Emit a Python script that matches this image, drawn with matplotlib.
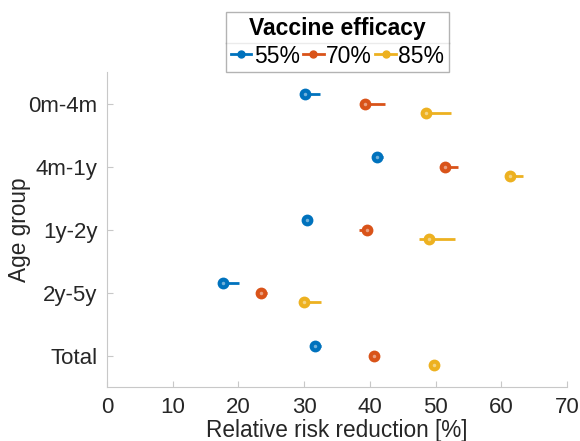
import numpy as np
import matplotlib.pyplot as plt
from matplotlib.lines import Line2D

plt.rcParams['font.family'] = ['Liberation Sans', 'DejaVu Sans']

groups = ["0m-4m", "4m-1y", "1y-2y", "2y-5y", "Total"]
efficacy = ["55%", "70%", "85%"]
colors = ["#0072BD", "#D95319", "#EDB120"]

# point estimate and range for each efficacy level
est_55 = [30.1, 41.1, 30.5, 17.6, 31.6]
lo_55 = [30.1, 41.1, 30.5, 17.6, 31.6]
hi_55 = [32.4, 42.0, 30.5, 20.1, 32.6]

est_70 = [39.2, 51.5, 39.6, 23.4, 40.7]
lo_70 = [38.5, 51.1, 38.4, 23.4, 40.7]
hi_70 = [42.3, 53.4, 39.6, 24.4, 40.7]

est_85 = [48.5, 61.4, 49.0, 30.0, 49.7]
lo_85 = [48.5, 61.4, 47.5, 30.0, 49.7]
hi_85 = [52.4, 63.3, 52.9, 32.5, 49.7]

ests = [est_55, est_70, est_85]
los = [lo_55, lo_70, lo_85]
his = [hi_55, hi_70, hi_85]
offsets = [-0.15, 0.0, 0.15]

fig = plt.figure(figsize=(5.8, 4.41), dpi=100)
ax = fig.add_axes([0.1845, 0.1224, 0.793, 0.714])

ypos = np.arange(1, len(groups) + 1)
handles = []
for k in range(3):
    y = ypos + offsets[k]
    e = np.array(ests[k])
    lo = np.array(los[k])
    hi = np.array(his[k])
    ax.hlines(y, lo, hi, color=colors[k], lw=2, zorder=2)
    ax.plot(e, y, 'o', ms=7, mec=colors[k], mfc=colors[k], mew=1.5, zorder=3)
    ax.plot(e, y, 'o', ms=2.5, mec='none', mfc='white', alpha=0.45, zorder=4)
    handles.append(Line2D([], [], color=colors[k], lw=2, marker='o', ms=5,
                          mfc=colors[k], mec=colors[k]))

ax.set_xlim(0, 70)
ax.set_ylim(5.5, 0.5)
ax.set_xticks(np.arange(0, 71, 10))
ax.set_yticks(ypos)
ax.set_yticklabels(groups)
ax.tick_params(direction='in', length=4, width=0.8, colors='#c8c8c8',
               labelcolor='#262626', labelsize=16, pad=7)
for s in ['top', 'right']:
    ax.spines[s].set_visible(False)
for s in ['left', 'bottom']:
    ax.spines[s].set_color('#c8c8c8')
    ax.spines[s].set_linewidth(0.8)

ax.set_xlabel("Relative risk reduction [%]", fontsize=16.3, color='#262626', labelpad=1)
ax.set_ylabel("Age group", fontsize=16.3, color='#262626')
ax.yaxis.set_label_coords(-0.165, 0.5)

leg = fig.legend(handles, efficacy, loc='upper center', bbox_to_anchor=(0.582, 0.972),
                 ncol=3, fontsize=16.5, title="Vaccine efficacy",
                 title_fontproperties={'weight': 'bold', 'size': 16.5},
                 frameon=True, fancybox=False, edgecolor='#a0a0a0',
                 handlelength=0.9, handletextpad=0.1, columnspacing=0.15,
                 borderpad=0.2, borderaxespad=0, labelspacing=0.2)
leg.get_frame().set_linewidth(1.0)

# divider line between legend title and entries
fig.canvas.draw()
r = fig.canvas.get_renderer()
lb = leg.get_window_extent(r)
tb = leg.get_title().get_window_extent(r)
yline = (tb.y0 - 3) / fig.bbox.height
fig.add_artist(Line2D([lb.x0 / fig.bbox.width, lb.x1 / fig.bbox.width], [yline, yline],
                      color='#a0a0a0', lw=1.0))

fig.savefig("out.png", dpi=100)
